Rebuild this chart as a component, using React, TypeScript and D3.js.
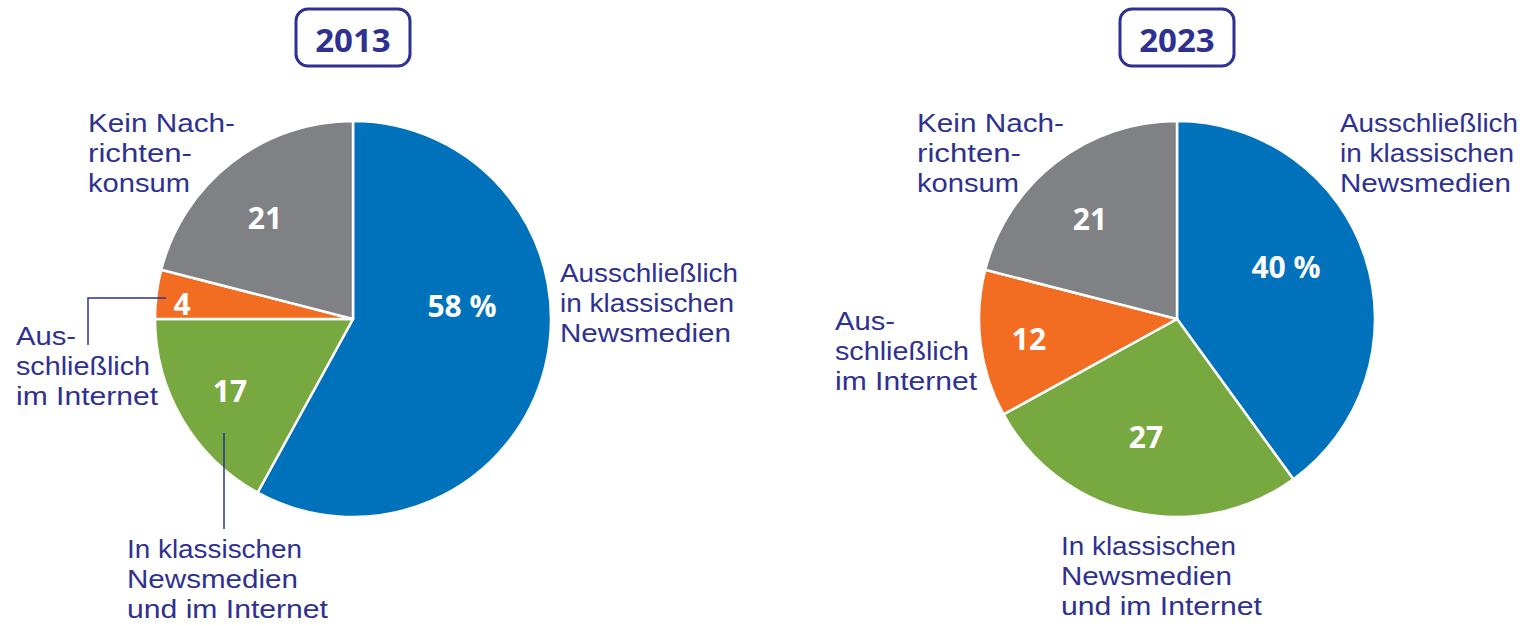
import React from "react";
import * as d3 from "d3";

const categories = [
  "Ausschließlich in klassischen Newsmedien",
  "In klassischen Newsmedien und im Internet",
  "Ausschließlich im Internet",
  "Kein Nachrichtenkonsum",
];
const values2013 = [58, 17, 4, 21];
const values2023 = [40, 27, 12, 21];
const valueLabels2013 = ["58 %", "17", "4", "21"];
const valueLabels2023 = ["40 %", "27", "12", "21"];
const years = ["2013", "2023"];
const colors = ["#0071bb", "#77a940", "#f26d22", "#808184"];
const categoryLines = [
  ["Ausschließlich", "in klassischen", "Newsmedien"],
  ["In klassischen", "Newsmedien", "und im Internet"],
  ["Aus-", "schließlich", "im Internet"],
  ["Kein Nach-", "richten-", "konsum"],
];

const TEXT = "#2e3192";
const FONT = "'Liberation Sans', Arial, sans-serif";
const BOLD = "'Open Sans', 'Noto Sans', sans-serif";
const R = 198;
const LINE = 30;

// text width targets for each line (measured from reference)
const lineWidths: Record<string, number> = {
  "Ausschließlich": 178,
  "in klassischen": 174,
  "Newsmedien": 171,
  "In klassischen": 175,
  "und im Internet": 201,
  "Aus-": 60,
  "schließlich": 134,
  "im Internet": 142,
  "Kein Nach-": 147,
  "richten-": 104,
  "konsum": 102,
};

type PieSpec = {
  cx: number;
  cy: number;
  values: number[];
  valueLabels: string[];
  year: string;
  valuePos: [number, number][];
  catPos: [number, number][]; // left x, first baseline
};

const pies: PieSpec[] = [
  {
    cx: 353,
    cy: 319,
    values: values2013,
    valueLabels: valueLabels2013,
    year: years[0],
    valuePos: [
      [109, -14],
      [-123, 71],
      [-171, -16],
      [-88, -102],
    ],
    catPos: [
      [560, 282],
      [127, 558],
      [16, 345],
      [88, 132],
    ],
  },
  {
    cx: 1177,
    cy: 319,
    values: values2023,
    valueLabels: valueLabels2023,
    year: years[1],
    valuePos: [
      [109, -53],
      [-31, 117],
      [-148, 19],
      [-87, -101],
    ],
    catPos: [
      [1340, 132],
      [1061, 555],
      [835, 330],
      [917, 132],
    ],
  },
];

function Pie({ spec }: { spec: PieSpec }) {
  const pie = d3
    .pie<number>()
    .sort(null)
    .value((d) => d)
    .startAngle(0)
    .endAngle(2 * Math.PI);
  const arcs = pie(spec.values);
  const arc = d3.arc<d3.PieArcDatum<number>>().innerRadius(0).outerRadius(R);
  const { cx, cy } = spec;
  return (
    <g>
      <rect
        x={cx - 57}
        y={9}
        width={114}
        height={57}
        rx={12}
        ry={12}
        fill="#fff"
        stroke={TEXT}
        strokeWidth={3}
      />
      <text
        x={cx}
        y={39}
        textAnchor="middle"
        dominantBaseline="central"
        fontFamily={BOLD}
        fontWeight={700}
        fontSize={33}
        fill={TEXT}
      >
        {spec.year}
      </text>
      <g transform={`translate(${cx},${cy})`}>
        {arcs.map((a, i) => (
          <path
            key={i}
            d={arc(a) || ""}
            fill={colors[i]}
            stroke="#fff"
            strokeWidth={2.5}
            strokeLinejoin="round"
          />
        ))}
        {arcs.map((a, i) => (
          <text
            key={"v" + i}
            x={spec.valuePos[i][0]}
            y={spec.valuePos[i][1]}
            textAnchor="middle"
            dominantBaseline="central"
            fontFamily={BOLD}
            fontWeight={700}
            fontSize={30}
            fill="#fff"
          >
            {spec.valueLabels[i]}
          </text>
        ))}
      </g>
      {categories.map((c, i) => (
        <text key={c} fontFamily={FONT} fontSize={26} fill={TEXT}>
          {categoryLines[i].map((line, j) => (
            <tspan
              key={j}
              x={spec.catPos[i][0]}
              y={spec.catPos[i][1] + j * LINE}
              textLength={lineWidths[line]}
              lengthAdjust="spacingAndGlyphs"
            >
              {line}
            </tspan>
          ))}
        </text>
      ))}
    </g>
  );
}

export default function App() {
  return (
    <svg
      width={1527}
      height={626}
      style={{ position: "absolute", left: 0, top: 0, background: "#fff" }}
    >
      <Pie spec={pies[0]} />
      <Pie spec={pies[1]} />
      {/* leader lines for 2013 small slices */}
      <path d="M166,298 H88 V345" fill="none" stroke={TEXT} strokeWidth={1.5} />
      <path d="M224,433 V529" fill="none" stroke={TEXT} strokeWidth={1.5} />
    </svg>
  );
}
